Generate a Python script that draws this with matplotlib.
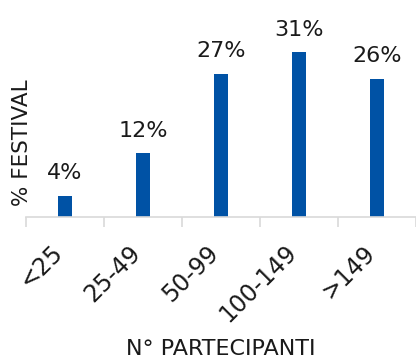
import matplotlib
matplotlib.use("Agg")
import matplotlib.pyplot as plt
import numpy as np

categories = ["<25", "25-49", "50-99", "100-149", ">149"]
values = [4, 12, 27, 31, 26]
value_labels = ["4%", "12%", "27%", "31%", "26%"]

plt.rcParams['font.family'] = ['DejaVu Sans']
fig = plt.figure(figsize=(4.16, 3.59), dpi=100)
ax = fig.add_axes([26/416, 142/359, 390/416, 186/359])
x = np.arange(len(categories))
ax.bar(x, values, width=0.18, color="#0052A5")
ax.set_xlim(-0.5, len(categories) - 0.5)
ax.set_ylim(0, 35)
for xi, v, lab in zip(x, values, value_labels):
    ax.annotate(lab, xy=(xi, v), xytext=(0, 12), textcoords="offset points",
                ha="center", va="baseline", fontsize=16, color="#1a1a1a")
for s in ["top", "right", "left"]:
    ax.spines[s].set_visible(False)
ax.spines["bottom"].set_color("#d9d9d9")
ax.spines["bottom"].set_linewidth(1.2)
ax.set_yticks([])
ax.set_xticks(np.arange(len(categories) + 1) - 0.5, minor=False)
ax.set_xticklabels([])
ax.tick_params(axis="x", length=7, width=1.2, color="#d9d9d9")
for xi, c in zip(x, categories):
    ax.annotate(c, xy=(xi, 0), xycoords=("data", "axes fraction"),
                xytext=(-4.3, -23), textcoords="offset points",
                rotation=45, ha="right", va="center", rotation_mode="anchor",
                fontsize=17, color="#1a1a1a")
fig.text(22/416, 1 - 143/359, "% FESTIVAL", rotation=90, ha="center", va="center",
         fontsize=15.5, color="#1a1a1a")
fig.text(221/416, 1 - 349/359, "N° PARTECIPANTI", ha="center", va="center",
         fontsize=16, color="#1a1a1a")
fig.savefig("out.png", dpi=100)
